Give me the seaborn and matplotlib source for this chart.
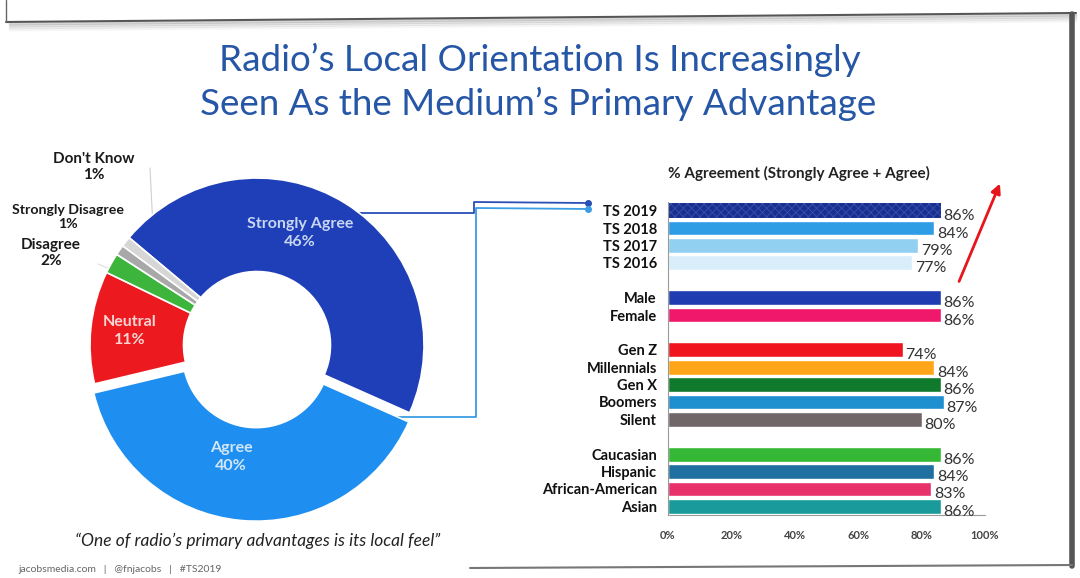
import matplotlib.pyplot as plt
import numpy as np
import pandas as pd
import seaborn as sns

# donut data
pie_labels = ["Strongly Agree", "Agree", "Neutral", "Disagree", "Strongly Disagree", "Don't Know"]
pie_values = [46, 40, 11, 2, 1, 1]
pie_colors = ["#1f3fb8", "#1e8ff0", "#ec1a1e", "#3db53d", "#a8a8a8", "#d6d6d6"]

# bar data
bar_labels = ["TS 2019", "TS 2018", "TS 2017", "TS 2016",
              "Male", "Female",
              "Gen Z", "Millennials", "Gen X", "Boomers", "Silent",
              "Caucasian", "Hispanic", "African-American", "Asian"]
bar_groups = ["year"] * 4 + ["gender"] * 2 + ["generation"] * 5 + ["ethnicity"] * 4
bar_values = [86, 84, 79, 77, 86, 86, 74, 84, 86, 87, 80, 86, 84, 83, 86]
bar_colors = ["#1b2f8e", "#2f9ce6", "#92d0f2", "#d8eefa",
              "#1f3cb0", "#f0186a",
              "#f0141e", "#ffa51a", "#0f7a2b", "#1e8fcf", "#706769",
              "#35b835", "#1f6fa0", "#e8306a", "#1a9a9a"]
xtick_values = [0, 20, 40, 60, 80, 100]

W, H = 1080, 578

sns.set_theme(style="white")
plt.rcParams['font.family'] = ['Lato', 'DejaVu Sans']
plt.rcParams['hatch.linewidth'] = 0.6

fig = plt.figure(figsize=(W / 100, H / 100), dpi=100)
fig.patch.set_facecolor("white")

# overlay in pixel coords for decorations (connectors, arrow, slide edges)
ov = fig.add_axes([0, 0, 1, 1])
ov.set_xlim(0, W)
ov.set_ylim(H, 0)
ov.axis("off")
ov.patch.set_alpha(0)


def fx(px):
    return px / W


def fy(py):
    return 1 - py / H


# ---- donut
R = 167
cx, cy = 257, 345
box = 200
ax_pie = fig.add_axes([fx(cx - box), fy(cy + box), 2 * box / W, 2 * box / H])
wedges, _ = ax_pie.pie(pie_values, colors=pie_colors, startangle=140, counterclock=False,
                       explode=[0, 0.055, 0, 0, 0, 0],
                       wedgeprops=dict(width=0.56, edgecolor="white", linewidth=1.2))
ax_pie.set_xlim(-box / R, box / R)
ax_pie.set_ylim(-box / R, box / R)
ax_pie.axis("off")

inside = [("Strongly Agree\n46%", 300, 233, "#c8d6f2"),
          ("Agree\n40%", 231, 457, "#d2e6f8"),
          ("Neutral\n11%", 130, 331, "#f7d4d4")]
for txt, px, py, col in inside:
    fig.text(fx(px), fy(py), txt, ha="center", va="center", color=col,
             fontsize=11.5, fontweight="bold", linespacing=1.3)

outside = [("Don't Know\n1%", 94, 167, 11),
           ("Strongly Disagree\n1%", 68, 217, 10.2),
           ("Disagree\n2%", 51, 253, 11)]
for txt, px, py, fs in outside:
    fig.text(fx(px), fy(py), txt, ha="center", va="center", color="#1a1a1a",
             fontsize=fs, fontweight="bold", linespacing=1.25)

# leader lines for tiny slices
ov.plot([150, 155], [168, 268], color="#cfcfcf", lw=0.8)
ov.plot([138, 150], [228, 272], color="#bdbdbd", lw=0.8)
ov.plot([98, 142], [264, 282], color="#dddddd", lw=0.8)

# ---- bars
df = pd.DataFrame({"label": bar_labels, "group": bar_groups, "value": bar_values})
df["pos"] = np.arange(len(df)) + pd.factorize(df["group"])[0]
palette = dict(zip(bar_labels, bar_colors))

ax_bar = fig.add_axes([fx(668), fy(515), (985 - 668) / W, (515 - 202) / H])
sns.barplot(data=df, x="value", y="pos", hue="label", palette=palette, orient="h",
            native_scale=True, dodge=False, legend=False, width=0.85, saturation=1,
            ax=ax_bar)
ax_bar.set_xlim(0, 100)
ax_bar.set_ylim(df["pos"].max() + 0.5, -0.5)
ax_bar.set_yticks(df["pos"])
ax_bar.set_yticklabels(df["label"], fontsize=10.5, color="#111111", fontweight="bold")
ax_bar.set_xticks(xtick_values)
ax_bar.set_xticklabels([f"{v}%" for v in xtick_values], fontsize=8, color="#444444",
                       fontweight="bold")
ax_bar.tick_params(axis="y", length=0, pad=8)
ax_bar.tick_params(axis="x", length=0, pad=11)
ax_bar.set_xlabel("")
ax_bar.set_ylabel("")
for s in ["top", "right"]:
    ax_bar.spines[s].set_visible(False)
for s in ["left", "bottom"]:
    ax_bar.spines[s].set_color("#9a9a9a")
    ax_bar.spines[s].set_linewidth(0.8)
ax_bar.patch.set_alpha(0)

for patch in ax_bar.patches:
    w = patch.get_width()
    if not np.isfinite(w) or w == 0:
        continue
    yc = patch.get_y() + patch.get_height() / 2
    if abs(yc) < 1e-6:
        patch.set_hatch("xxxx")
        patch.set_edgecolor("#3552b0")
        patch.set_linewidth(0)
    ax_bar.annotate(f"{w:.0f}%", xy=(w, yc), xytext=(2, -4), textcoords="offset points",
                    ha="left", va="center", fontsize=11.5, color="#333333")

fig.text(fx(799), fy(173), "% Agreement (Strongly Agree + Agree)", ha="center", va="center",
         fontsize=11, fontweight="bold", color="#222222")

# ---- connectors from donut to bars
dark = "#2a4fb5"
light = "#3b9de3"
ov.plot([340, 474, 474, 588], [213, 213, 202, 203], color=dark, lw=1.3)
ov.plot([395, 476, 476, 588], [417, 417, 208, 209], color=light, lw=1.3)
ov.plot([588], [203], "o", color=dark, ms=4)
ov.plot([588], [209], "o", color=light, ms=4)

# red arrow
ov.annotate("", xy=(1001, 181), xytext=(958, 284),
            arrowprops=dict(arrowstyle="-|>", color="#e8141b", lw=2, mutation_scale=14))

# ---- titles and notes
fig.text(fx(540), fy(60), "Radio’s Local Orientation Is Increasingly", ha="center", va="center",
         fontsize=26.5, color="#2656a6")
fig.text(fx(538), fy(104), "Seen As the Medium’s Primary Advantage", ha="center", va="center",
         fontsize=26.5, color="#2656a6")
fig.text(fx(258), fy(541), "“One of radio’s primary advantages is its local feel”",
         ha="center", va="center", fontsize=12.5, style="italic", color="#222222")
fig.text(fx(18), fy(570), "jacobsmedia.com   |   @fnjacobs   |   #TS2019", ha="left",
         va="center", fontsize=7.5, color="#666666")

# slide edges from the photo
ov.plot([6, 1076], [22, 13], color="#555555", lw=1.5)
ov.plot([6, 6], [0, 22], color="#666666", lw=1)
for i, a in enumerate([0.35, 0.25, 0.16, 0.08]):
    ov.plot([10, 1076], [24 + i * 2, 15 + i * 2], color="#888888", lw=2, alpha=a)
ov.plot([1072, 1072], [14, 566], color="#555555", lw=4)
ov.plot([470, 1072], [568, 565], color="#777777", lw=1.5)

fig.savefig("out.png", dpi=100)
